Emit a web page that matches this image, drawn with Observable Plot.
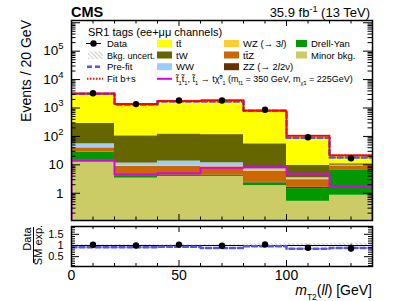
<!DOCTYPE html>
<html><head><meta charset="utf-8">
<script src="https://cdn.jsdelivr.net/npm/d3@7"></script>
<script src="https://cdn.jsdelivr.net/npm/@observablehq/plot@0.6"></script>
<style>
body{margin:0;background:#fff;}
#wrap{position:relative;width:399px;height:301px;font-family:"Liberation Sans",Arial,Helvetica,sans-serif;overflow:hidden;}
#wrap svg{position:absolute;left:0;}
</style></head><body><div id="wrap"></div>
<script>
// ---------- data ----------
const binLo = [0, 20, 40, 60, 80, 100, 120];
const binHi = [20, 40, 60, 80, 100, 120, 140];
const binCenter = [10, 30, 50, 70, 90, 110, 130];
const dataCounts = [3300, 1370, 1830, 1830, 870, 93, 17];
const processes = ["Minor bkg.", "Drell-Yan", "ZZ (→ 2l2ν)", "tt̄Z", "WZ (→ 3l)", "WW", "tW", "tt̄"];
const processColors = ["#cccc66", "#009900", "#663300", "#cc6600", "#ffcc33", "#99ccff", "#666600", "#ffff00"];
const minorBkg = [14.3, 3.4, 3.9, 3.9, 1.86, 0.52, 0.85];
const drellYan = [13.5, 0.6, 0.4, 0.3, 0.44, 0.94, 5.55];
const zzBkg = [0.5, 0.2, 0.2, 0.2, 0.2, 0.15, 0.3];
const ttzBkg = [11.3, 4.6, 4.3, 3.9, 3.5, 1.4, 2.5];
const wzBkg = [1.5, 0.5, 0.6, 0.5, 0.3, 0.2, 0.3];
const wwBkg = [13.7, 2.2, 4.1, 3.0, 1.0, 0.3, 0.2];
const twBkg = [232, 93.5, 108, 104, 47.7, 6.0, 1.2];
const ttbarBkg = [2920, 1265, 1638, 1734, 760, 91.5, 9.1];
const signalCounts = [14, 4.6, 5.1, 7.9, 8.3, 4.9, 1.7];
const preFitCounts = [3150, 1330, 1700, 1700, 800, 90, 18];
const fitBSCounts = [3221, 1375, 1765, 1858, 823, 106, 21.7];
// ratio panel
const ratioData = [1.03, 1.0, 1.04, 0.99, 1.05, 0.90, 0.87];
const ratioErr = [0.02, 0.03, 0.03, 0.03, 0.04, 0.09, 0.19];
const ratioPreFit = [0.92, 0.92, 0.94, 0.89, 0.97, 0.85, 0.89];
const uncLow = [0.98, 0.98, 0.98, 0.98, 0.97, 0.92, 0.92];
const uncHigh = [1.04, 1.04, 1.05, 1.04, 1.08, 1.09, 1.11];
// axis ticks
const yMainDomain = [0.11, 1.2e6];
const yMainLabels = [1, 10, 100, 1000, 10000, 100000];
const xLabels = [0, 50, 100];
const ratioLabels = [0.5, 1, 1.5];

// ---------- layout ----------
const W = 399, mL = 71, mR = 27;
const frameW = W - mL - mR;
const mainH = 223, mainTop = 20, mainBottom = 3;
const mainFrameH = mainH - mainTop - mainBottom;
const ratioH = 78, ratioTop = 3, ratioBottom = 35;
const ratioFrameH = ratioH - ratioTop - ratioBottom;
const font = "Liberation Sans, Arial, Helvetica, sans-serif";

// ---------- derived tables ----------
const comps = [minorBkg, drellYan, zzBkg, ttzBkg, wzBkg, wwBkg, twBkg, ttbarBkg];
const stackRows = [];
binLo.forEach((lo, i) => {
  let c = 0;
  comps.forEach((arr, j) => {
    const y1 = c; c += arr[i];
    stackRows.push({x1: lo, x2: binHi[i], y1: y1 > 0 ? y1 : 1e-3, y2: c, proc: processes[j]});
  });
});
const step = (vals, closed) => {
  const pts = [];
  if (closed) pts.push({x: binLo[0], y: 1e-3});
  vals.forEach((v, i) => { pts.push({x: binLo[i], y: v}); pts.push({x: binHi[i], y: v}); });
  if (closed) pts.push({x: binHi[binHi.length - 1], y: 1e-3});
  return pts;
};
const bins = binLo.map((lo, i) => ({lo, hi: binHi[i], c: binCenter[i], n: dataCounts[i],
  r: ratioData[i], e: ratioErr[i], ul: uncLow[i], uh: uncHigh[i]}));

const logTicks = d3.scaleLog().domain(yMainDomain).ticks();
const yMajor = logTicks.filter(v => Math.abs(Math.log10(v) - Math.round(Math.log10(v))) < 1e-9);
const yMinor = logTicks.filter(v => !yMajor.includes(v));
const xMinor = d3.range(0, 141, 10).filter(v => !xLabels.includes(v));
const rMinor = d3.range(0.1, 1.85, 0.1).map(v => +v.toFixed(2)).filter(v => !ratioLabels.includes(v));

// ---------- main panel ----------
const main = Plot.plot({
  width: W, height: mainH, marginLeft: mL, marginRight: mR, marginTop: mainTop, marginBottom: mainBottom,
  x: {domain: [0, 140], axis: null},
  y: {type: "log", domain: yMainDomain, axis: null},
  color: {domain: processes, range: processColors},
  style: {fontFamily: font, background: "transparent", color: "black"},
  marks: [
    Plot.rect(stackRows, {x1: "x1", x2: "x2", y1: "y1", y2: "y2", fill: "proc", clip: true}),
    Plot.line(step(signalCounts, true), {x: "x", y: "y", stroke: "#dd00ee", strokeWidth: 2, clip: true}),
    Plot.line(step(preFitCounts, false), {x: "x", y: "y", stroke: "#5555e6", strokeWidth: 2.5, strokeDasharray: "5,3", clip: true}),
    Plot.line(step(fitBSCounts, false), {x: "x", y: "y", stroke: "#ff0000", strokeWidth: 2, strokeDasharray: "1.5,1.5", clip: true}),
    Plot.dot(bins, {x: "c", y: "n", r: 3.2, fill: "black", stroke: null}),
    Plot.tickY(yMinor, {insetRight: frameW - 4.5, stroke: "black"}),
    Plot.tickY(yMinor, {insetLeft: frameW - 4.5, stroke: "black"}),
    Plot.tickY(yMajor, {insetRight: frameW - 9, stroke: "black"}),
    Plot.tickY(yMajor, {insetLeft: frameW - 9, stroke: "black"}),
    Plot.tickX(xMinor, {insetTop: mainFrameH - 3.5, stroke: "black"}),
    Plot.tickX(xMinor, {insetBottom: mainFrameH - 3.5, stroke: "black"}),
    Plot.tickX(xLabels, {insetTop: mainFrameH - 6, stroke: "black"}),
    Plot.tickX(xLabels, {insetBottom: mainFrameH - 6, stroke: "black"}),
    Plot.axisY({ticks: yMainLabels, tickSize: 0, tickPadding: 8, fontSize: 13.5, label: null,
      tickFormat: d => d < 100 ? String(d) : "10^" + Math.round(Math.log10(d))}),
    Plot.frame({stroke: "black", strokeWidth: 1.5})
  ]
});
main.style.top = "0px";
// superscripts on y tick labels
d3.select(main).selectAll('g[aria-label="y-axis tick label"] text').each(function () {
  const t = this.textContent;
  if (t.includes("^")) {
    const [b, e] = t.split("^");
    const s = d3.select(this); s.text(null);
    s.append("tspan").text(b);
    s.append("tspan").attr("dy", -6).attr("font-size", 9.5).text(e);
  }
});

// ---------- ratio panel ----------
const ratio = Plot.plot({
  width: W, height: ratioH, marginLeft: mL, marginRight: mR, marginTop: ratioTop, marginBottom: ratioBottom,
  x: {domain: [0, 140], axis: null},
  y: {domain: [0.06, 1.85], axis: null},
  style: {fontFamily: font, background: "transparent", color: "black"},
  marks: [
    Plot.rect(bins, {x1: "lo", x2: "hi", y1: "ul", y2: "uh", fill: "url(#hatchR)", stroke: "none"}),
    Plot.ruleY([1], {stroke: "black", strokeWidth: 1}),
    Plot.line(binLo.flatMap((lo, i) => [{x: lo, y: ratioPreFit[i]}, {x: binHi[i], y: ratioPreFit[i]}]),
      {x: "x", y: "y", stroke: "#5555e6", strokeWidth: 2.5, strokeDasharray: "5,3", clip: true}),
    Plot.ruleX(bins, {x: "c", y1: d => d.r - d.e, y2: d => d.r + d.e, stroke: "black", strokeWidth: 1}),
    Plot.dot(bins, {x: "c", y: "r", r: 3.2, fill: "black", stroke: null}),
    Plot.tickY(rMinor, {insetRight: frameW - 4, stroke: "black"}),
    Plot.tickY(rMinor, {insetLeft: frameW - 4, stroke: "black"}),
    Plot.tickY(ratioLabels, {insetRight: frameW - 8, stroke: "black"}),
    Plot.tickY(ratioLabels, {insetLeft: frameW - 8, stroke: "black"}),
    Plot.tickX(xMinor, {insetTop: ratioFrameH - 3, stroke: "black"}),
    Plot.tickX(xMinor, {insetBottom: ratioFrameH - 3, stroke: "black"}),
    Plot.tickX(xLabels, {insetTop: ratioFrameH - 6, stroke: "black"}),
    Plot.tickX(xLabels, {insetBottom: ratioFrameH - 6, stroke: "black"}),
    Plot.axisY({ticks: ratioLabels, tickSize: 0, tickPadding: 8, fontSize: 11, label: null, tickFormat: d => String(d)}),
    Plot.axisX({ticks: xLabels, tickSize: 0, tickPadding: 4, fontSize: 14, label: null, tickFormat: d => String(d)}),
    Plot.frame({stroke: "black", strokeWidth: 1.5})
  ]
});
ratio.style.top = mainH + "px";
d3.select(ratio).insert("defs", ":first-child").html(
  '<pattern id="hatchR" width="3" height="3" patternUnits="userSpaceOnUse" patternTransform="rotate(-45)">' +
  '<line x1="0" y1="0" x2="0" y2="3" stroke="#999" stroke-width="1"/></pattern>');

const wrap = document.getElementById("wrap");
wrap.appendChild(main);
wrap.appendChild(ratio);

// ---------- overlay: titles, axis titles, legend ----------
const ov = d3.select(wrap).append("svg").attr("width", W).attr("height", 301)
  .style("top", "0px").style("pointer-events", "none").attr("font-family", font);
ov.append("defs").html(
  '<pattern id="hatchL" width="3" height="3" patternUnits="userSpaceOnUse" patternTransform="rotate(-45)">' +
  '<line x1="0" y1="0" x2="0" y2="3" stroke="#999" stroke-width="1"/></pattern>');

function rich(sel, parts) {
  parts.forEach(p => {
    const ts = sel.append("tspan").text(p.t);
    if (p.i) ts.attr("font-style", "italic");
    if (p.sub) ts.attr("font-size", p.fs || "70%").attr("baseline-shift", "sub");
    if (p.sup) ts.attr("font-size", p.fs || "70%").attr("baseline-shift", "super");
  });
  return sel;
}

ov.append("text").attr("x", 71).attr("y", 17).attr("font-weight", "bold").attr("font-size", 14.5).text("CMS");
rich(ov.append("text").attr("x", 370).attr("y", 17).attr("text-anchor", "end").attr("font-size", 13),
  [{t: "35.9 fb"}, {t: "-1", sup: true}, {t: " (13 TeV)"}]);
ov.append("text").attr("transform", "translate(31,20) rotate(-90)").attr("text-anchor", "end")
  .attr("font-size", 14).text("Events / 20 GeV");
ov.append("text").attr("transform", "translate(31,239) rotate(-90)").attr("text-anchor", "middle")
  .attr("font-size", 11).text("Data");
ov.append("line").attr("x1", 33.5).attr("x2", 33.5).attr("y1", 227).attr("y2", 263).attr("stroke", "black").attr("stroke-width", 1);
ov.append("text").attr("transform", "translate(42,245) rotate(-90)").attr("text-anchor", "middle")
  .attr("font-size", 11).text("SM exp.");
rich(ov.append("text").attr("x", 372).attr("y", 295).attr("text-anchor", "end").attr("font-size", 14),
  [{t: "m", i: true}, {t: "T2", sub: true, fs: "60%"}, {t: "("}, {t: "ll", i: true}, {t: ") [GeV]"}]);

// legend
const lg = ov.append("g").attr("font-size", 9.5);
lg.append("text").attr("x", 88).attr("y", 35.5).attr("font-size", 11).text("SR1 tags  (ee+μμ channels)");
const rows = [43.5, 55, 66.7, 78.8];
// column 1
lg.append("line").attr("x1", 86).attr("x2", 101).attr("y1", rows[0]).attr("y2", rows[0]).attr("stroke", "black").attr("stroke-width", 1);
lg.append("circle").attr("cx", 93.5).attr("cy", rows[0]).attr("r", 3.2).attr("fill", "black");
lg.append("text").attr("x", 107).attr("y", rows[0] + 3.5).text("Data");
lg.append("rect").attr("x", 88).attr("y", rows[1] - 3.5).attr("width", 15).attr("height", 7.5).attr("fill", "url(#hatchL)");
lg.append("text").attr("x", 107).attr("y", rows[1] + 3.5).attr("font-size", 9).text("Bkg. uncert.");
lg.append("line").attr("x1", 87).attr("x2", 103).attr("y1", rows[2]).attr("y2", rows[2]).attr("stroke", "#5555e6").attr("stroke-width", 2.5).attr("stroke-dasharray", "5,3");
lg.append("text").attr("x", 107).attr("y", rows[2] + 3.5).text("Pre-fit");
lg.append("line").attr("x1", 87).attr("x2", 103).attr("y1", rows[3]).attr("y2", rows[3]).attr("stroke", "#ff0000").attr("stroke-width", 2).attr("stroke-dasharray", "1.5,1.5");
lg.append("text").attr("x", 107).attr("y", rows[3] + 3.5).text("Fit b+s");
// boxes
const boxItems = [
  {p: "tt̄", x: 157, w: 15, row: 0, label: [{t: "tt̄"}]},
  {p: "tW", x: 157, w: 15, row: 1, label: [{t: "tW"}]},
  {p: "WW", x: 157, w: 15, row: 2, label: [{t: "WW"}]},
  {p: "WZ (→ 3l)", x: 224, w: 15, row: 0, label: [{t: "WZ (→ 3"}, {t: "l", i: true}, {t: ")"}]},
  {p: "tt̄Z", x: 224, w: 15, row: 1, label: [{t: "tt̄Z"}]},
  {p: "ZZ (→ 2l2ν)", x: 224, w: 15, row: 2, label: [{t: "ZZ (→ 2"}, {t: "l", i: true}, {t: "2ν)"}]},
  {p: "Drell-Yan", x: 296, w: 11, row: 0, label: [{t: "Drell-Yan"}]},
  {p: "Minor bkg.", x: 296, w: 11, row: 1, label: [{t: "Minor bkg."}]}
];
boxItems.forEach(b => {
  lg.append("rect").attr("x", b.x).attr("y", rows[b.row] - 3.5).attr("width", b.w).attr("height", 7)
    .attr("fill", processColors[processes.indexOf(b.p)]);
  rich(lg.append("text").attr("x", b.x + b.w + 4).attr("y", rows[b.row] + 3.5), b.label);
});
lg.append("line").attr("x1", 157).attr("x2", 172).attr("y1", rows[3]).attr("y2", rows[3]).attr("stroke", "#dd00ee").attr("stroke-width", 2);
rich(lg.append("text").attr("x", 176).attr("y", rows[3] + 3.5).attr("font-size", 9), [
  {t: "t̃"}, {t: "1", sub: true, fs: "65%"}, {t: "t̃"}, {t: "1", sub: true, fs: "65%"}, {t: ",  t̃"}, {t: "1", sub: true, fs: "65%"},
  {t: " → tχ̃"}, {t: "0", sup: true, fs: "60%"}, {t: "1", sub: true, fs: "60%"},
  {t: "  (m"}, {t: "t̃1", sub: true, fs: "60%"}, {t: " = 350 GeV, m"}, {t: "χ̃1", sub: true, fs: "60%"}, {t: " = 225GeV)"}
]);
</script></body></html>
